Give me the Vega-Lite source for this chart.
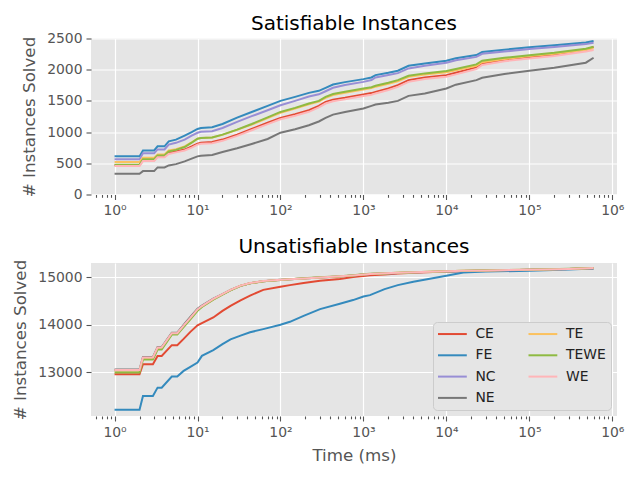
{
"$schema": "https://vega.github.io/schema/vega-lite/v6.json",
"background": "white",
"padding": {"left": 12, "top": 13.5, "right": 5, "bottom": 5},
"spacing": 18.5,
"datasets": {
"sat": [
{"series":"CE","time":1,"solved":470},{"series":"CE","time":2,"solved":470},{"series":"CE","time":2.2,"solved":550},{"series":"CE","time":3,"solved":550},{"series":"CE","time":3.3,"solved":610},{"series":"CE","time":4,"solved":610},{"series":"CE","time":4.5,"solved":665},{"series":"CE","time":5.5,"solved":690},{"series":"CE","time":7,"solved":720},{"series":"CE","time":8.5,"solved":770},{"series":"CE","time":10,"solved":815},{"series":"CE","time":11,"solved":830},{"series":"CE","time":15,"solved":840},{"series":"CE","time":20,"solved":880},{"series":"CE","time":30,"solved":960},{"series":"CE","time":45,"solved":1050},{"series":"CE","time":70,"solved":1150},{"series":"CE","time":100,"solved":1227},{"series":"CE","time":150,"solved":1286},{"series":"CE","time":220,"solved":1351},{"series":"CE","time":290,"solved":1420},{"series":"CE","time":350,"solved":1484},{"series":"CE","time":430,"solved":1520},{"series":"CE","time":600,"solved":1549},{"series":"CE","time":1000,"solved":1603},{"series":"CE","time":1250,"solved":1625},{"series":"CE","time":1400,"solved":1645},{"series":"CE","time":2000,"solved":1700},{"series":"CE","time":2600,"solved":1753},{"series":"CE","time":3500,"solved":1833},{"series":"CE","time":5500,"solved":1876},{"series":"CE","time":10000,"solved":1913},{"series":"CE","time":13000,"solved":1951},{"series":"CE","time":23000,"solved":2037},{"series":"CE","time":27000,"solved":2101},{"series":"CE","time":50000,"solved":2160},{"series":"CE","time":100000,"solved":2205},{"series":"CE","time":200000,"solved":2242},{"series":"CE","time":480000,"solved":2320},{"series":"CE","time":595000,"solved":2365},
{"series":"FE","time":1,"solved":611},{"series":"FE","time":2,"solved":611},{"series":"FE","time":2.2,"solved":707},{"series":"FE","time":3,"solved":707},{"series":"FE","time":3.3,"solved":772},{"series":"FE","time":4,"solved":772},{"series":"FE","time":4.5,"solved":852},{"series":"FE","time":5.5,"solved":879},{"series":"FE","time":7,"solved":945},{"series":"FE","time":8.5,"solved":1000},{"series":"FE","time":10,"solved":1050},{"series":"FE","time":11,"solved":1066},{"series":"FE","time":15,"solved":1077},{"series":"FE","time":20,"solved":1130},{"series":"FE","time":30,"solved":1233},{"series":"FE","time":45,"solved":1323},{"series":"FE","time":70,"solved":1420},{"series":"FE","time":100,"solved":1500},{"series":"FE","time":150,"solved":1565},{"series":"FE","time":220,"solved":1629},{"series":"FE","time":290,"solved":1661},{"series":"FE","time":350,"solved":1709},{"series":"FE","time":430,"solved":1763},{"series":"FE","time":600,"solved":1801},{"series":"FE","time":1000,"solved":1849},{"series":"FE","time":1250,"solved":1876},{"series":"FE","time":1400,"solved":1913},{"series":"FE","time":2000,"solved":1950},{"series":"FE","time":2600,"solved":1983},{"series":"FE","time":3500,"solved":2063},{"series":"FE","time":5500,"solved":2101},{"series":"FE","time":10000,"solved":2143},{"series":"FE","time":13000,"solved":2182},{"series":"FE","time":23000,"solved":2235},{"series":"FE","time":27000,"solved":2283},{"series":"FE","time":50000,"solved":2320},{"series":"FE","time":100000,"solved":2359},{"series":"FE","time":200000,"solved":2390},{"series":"FE","time":480000,"solved":2435},{"series":"FE","time":595000,"solved":2460},
{"series":"NC","time":1,"solved":563},{"series":"NC","time":2,"solved":563},{"series":"NC","time":2.2,"solved":660},{"series":"NC","time":3,"solved":660},{"series":"NC","time":3.3,"solved":722},{"series":"NC","time":4,"solved":722},{"series":"NC","time":4.5,"solved":800},{"series":"NC","time":5.5,"solved":828},{"series":"NC","time":7,"solved":880},{"series":"NC","time":8.5,"solved":945},{"series":"NC","time":10,"solved":990},{"series":"NC","time":11,"solved":1005},{"series":"NC","time":15,"solved":1015},{"series":"NC","time":20,"solved":1065},{"series":"NC","time":30,"solved":1165},{"series":"NC","time":45,"solved":1255},{"series":"NC","time":70,"solved":1350},{"series":"NC","time":100,"solved":1431},{"series":"NC","time":150,"solved":1500},{"series":"NC","time":220,"solved":1570},{"series":"NC","time":290,"solved":1605},{"series":"NC","time":350,"solved":1655},{"series":"NC","time":430,"solved":1710},{"series":"NC","time":600,"solved":1755},{"series":"NC","time":1000,"solved":1805},{"series":"NC","time":1250,"solved":1835},{"series":"NC","time":1400,"solved":1875},{"series":"NC","time":2000,"solved":1915},{"series":"NC","time":2600,"solved":1945},{"series":"NC","time":3500,"solved":2021},{"series":"NC","time":5500,"solved":2065},{"series":"NC","time":10000,"solved":2110},{"series":"NC","time":13000,"solved":2150},{"series":"NC","time":23000,"solved":2205},{"series":"NC","time":27000,"solved":2255},{"series":"NC","time":50000,"solved":2292},{"series":"NC","time":100000,"solved":2331},{"series":"NC","time":200000,"solved":2362},{"series":"NC","time":480000,"solved":2410},{"series":"NC","time":595000,"solved":2433},
{"series":"NE","time":1,"solved":333},{"series":"NE","time":2,"solved":333},{"series":"NE","time":2.2,"solved":375},{"series":"NE","time":3,"solved":375},{"series":"NE","time":3.3,"solved":434},{"series":"NE","time":4,"solved":434},{"series":"NE","time":4.5,"solved":466},{"series":"NE","time":5.5,"solved":487},{"series":"NE","time":7,"solved":530},{"series":"NE","time":8.5,"solved":575},{"series":"NE","time":10,"solved":611},{"series":"NE","time":11,"solved":620},{"series":"NE","time":15,"solved":632},{"series":"NE","time":20,"solved":680},{"series":"NE","time":30,"solved":740},{"series":"NE","time":45,"solved":810},{"series":"NE","time":70,"solved":890},{"series":"NE","time":100,"solved":990},{"series":"NE","time":150,"solved":1045},{"series":"NE","time":220,"solved":1110},{"series":"NE","time":290,"solved":1170},{"series":"NE","time":350,"solved":1227},{"series":"NE","time":430,"solved":1280},{"series":"NE","time":600,"solved":1323},{"series":"NE","time":1000,"solved":1378},{"series":"NE","time":1250,"solved":1420},{"series":"NE","time":1400,"solved":1442},{"series":"NE","time":2000,"solved":1470},{"series":"NE","time":2600,"solved":1500},{"series":"NE","time":3500,"solved":1581},{"series":"NE","time":5500,"solved":1619},{"series":"NE","time":10000,"solved":1700},{"series":"NE","time":13000,"solved":1760},{"series":"NE","time":23000,"solved":1833},{"series":"NE","time":27000,"solved":1870},{"series":"NE","time":50000,"solved":1930},{"series":"NE","time":100000,"solved":1983},{"series":"NE","time":200000,"solved":2030},{"series":"NE","time":480000,"solved":2112},{"series":"NE","time":595000,"solved":2192},
{"series":"TE","time":1,"solved":520},{"series":"TE","time":2,"solved":520},{"series":"TE","time":2.2,"solved":590},{"series":"TE","time":3,"solved":590},{"series":"TE","time":3.3,"solved":640},{"series":"TE","time":4,"solved":640},{"series":"TE","time":4.5,"solved":705},{"series":"TE","time":5.5,"solved":725},{"series":"TE","time":7,"solved":770},{"series":"TE","time":8.5,"solved":835},{"series":"TE","time":10,"solved":895},{"series":"TE","time":11,"solved":905},{"series":"TE","time":15,"solved":912},{"series":"TE","time":20,"solved":955},{"series":"TE","time":30,"solved":1035},{"series":"TE","time":45,"solved":1120},{"series":"TE","time":70,"solved":1225},{"series":"TE","time":100,"solved":1310},{"series":"TE","time":150,"solved":1378},{"series":"TE","time":220,"solved":1445},{"series":"TE","time":290,"solved":1488},{"series":"TE","time":350,"solved":1550},{"series":"TE","time":430,"solved":1595},{"series":"TE","time":600,"solved":1630},{"series":"TE","time":1000,"solved":1683},{"series":"TE","time":1250,"solved":1705},{"series":"TE","time":1400,"solved":1728},{"series":"TE","time":2000,"solved":1775},{"series":"TE","time":2600,"solved":1815},{"series":"TE","time":3500,"solved":1885},{"series":"TE","time":5500,"solved":1922},{"series":"TE","time":10000,"solved":1960},{"series":"TE","time":13000,"solved":1990},{"series":"TE","time":23000,"solved":2062},{"series":"TE","time":27000,"solved":2120},{"series":"TE","time":50000,"solved":2170},{"series":"TE","time":100000,"solved":2218},{"series":"TE","time":200000,"solved":2255},{"series":"TE","time":480000,"solved":2315},{"series":"TE","time":595000,"solved":2343},
{"series":"TEWE","time":1,"solved":477},{"series":"TEWE","time":2,"solved":477},{"series":"TEWE","time":2.2,"solved":565},{"series":"TEWE","time":3,"solved":565},{"series":"TEWE","time":3.3,"solved":625},{"series":"TEWE","time":4,"solved":625},{"series":"TEWE","time":4.5,"solved":690},{"series":"TEWE","time":5.5,"solved":715},{"series":"TEWE","time":7,"solved":760},{"series":"TEWE","time":8.5,"solved":830},{"series":"TEWE","time":10,"solved":895},{"series":"TEWE","time":11,"solved":905},{"series":"TEWE","time":15,"solved":915},{"series":"TEWE","time":20,"solved":960},{"series":"TEWE","time":30,"solved":1040},{"series":"TEWE","time":45,"solved":1130},{"series":"TEWE","time":70,"solved":1235},{"series":"TEWE","time":100,"solved":1323},{"series":"TEWE","time":150,"solved":1388},{"series":"TEWE","time":220,"solved":1458},{"series":"TEWE","time":290,"solved":1500},{"series":"TEWE","time":350,"solved":1565},{"series":"TEWE","time":430,"solved":1610},{"series":"TEWE","time":600,"solved":1645},{"series":"TEWE","time":1000,"solved":1699},{"series":"TEWE","time":1250,"solved":1720},{"series":"TEWE","time":1400,"solved":1742},{"series":"TEWE","time":2000,"solved":1790},{"series":"TEWE","time":2600,"solved":1833},{"series":"TEWE","time":3500,"solved":1903},{"series":"TEWE","time":5500,"solved":1941},{"series":"TEWE","time":10000,"solved":1978},{"series":"TEWE","time":13000,"solved":2010},{"series":"TEWE","time":23000,"solved":2085},{"series":"TEWE","time":27000,"solved":2144},{"series":"TEWE","time":50000,"solved":2190},{"series":"TEWE","time":100000,"solved":2230},{"series":"TEWE","time":200000,"solved":2270},{"series":"TEWE","time":480000,"solved":2335},{"series":"TEWE","time":595000,"solved":2369},
{"series":"WE","time":1,"solved":455},{"series":"WE","time":2,"solved":455},{"series":"WE","time":2.2,"solved":535},{"series":"WE","time":3,"solved":535},{"series":"WE","time":3.3,"solved":595},{"series":"WE","time":4,"solved":595},{"series":"WE","time":4.5,"solved":650},{"series":"WE","time":5.5,"solved":675},{"series":"WE","time":7,"solved":705},{"series":"WE","time":8.5,"solved":750},{"series":"WE","time":10,"solved":799},{"series":"WE","time":11,"solved":812},{"series":"WE","time":15,"solved":822},{"series":"WE","time":20,"solved":860},{"series":"WE","time":30,"solved":940},{"series":"WE","time":45,"solved":1030},{"series":"WE","time":70,"solved":1128},{"series":"WE","time":100,"solved":1206},{"series":"WE","time":150,"solved":1262},{"series":"WE","time":220,"solved":1325},{"series":"WE","time":290,"solved":1395},{"series":"WE","time":350,"solved":1458},{"series":"WE","time":430,"solved":1495},{"series":"WE","time":600,"solved":1525},{"series":"WE","time":1000,"solved":1578},{"series":"WE","time":1250,"solved":1600},{"series":"WE","time":1400,"solved":1620},{"series":"WE","time":2000,"solved":1675},{"series":"WE","time":2600,"solved":1725},{"series":"WE","time":3500,"solved":1805},{"series":"WE","time":5500,"solved":1850},{"series":"WE","time":10000,"solved":1888},{"series":"WE","time":13000,"solved":1925},{"series":"WE","time":23000,"solved":2010},{"series":"WE","time":27000,"solved":2075},{"series":"WE","time":50000,"solved":2135},{"series":"WE","time":100000,"solved":2180},{"series":"WE","time":200000,"solved":2220},{"series":"WE","time":480000,"solved":2290},{"series":"WE","time":595000,"solved":2316}
],
"unsat": [
{"series":"CE","time":1,"solved":12958},{"series":"CE","time":2,"solved":12958},{"series":"CE","time":2.2,"solved":13168},{"series":"CE","time":2.9,"solved":13168},{"series":"CE","time":3.3,"solved":13343},{"series":"CE","time":3.7,"solved":13343},{"series":"CE","time":4.9,"solved":13568},{"series":"CE","time":5.7,"solved":13568},{"series":"CE","time":6.8,"solved":13700},{"series":"CE","time":8.2,"solved":13848},{"series":"CE","time":10,"solved":13985},{"series":"CE","time":11.3,"solved":14030},{"series":"CE","time":15.5,"solved":14150},{"series":"CE","time":20,"solved":14290},{"series":"CE","time":25,"solved":14396},{"series":"CE","time":33,"solved":14510},{"series":"CE","time":43,"solved":14610},{"series":"CE","time":62,"solved":14730},{"series":"CE","time":100,"solved":14795},{"series":"CE","time":130,"solved":14830},{"series":"CE","time":190,"solved":14873},{"series":"CE","time":300,"solved":14920},{"series":"CE","time":520,"solved":14958},{"series":"CE","time":750,"solved":15000},{"series":"CE","time":1000,"solved":15020},{"series":"CE","time":1200,"solved":15035},{"series":"CE","time":1800,"solved":15055},{"series":"CE","time":2600,"solved":15072},{"series":"CE","time":4000,"solved":15090},{"series":"CE","time":10000,"solved":15115},{"series":"CE","time":16000,"solved":15122},{"series":"CE","time":30000,"solved":15135},{"series":"CE","time":100000,"solved":15153},{"series":"CE","time":300000,"solved":15170},{"series":"CE","time":595000,"solved":15185},
{"series":"FE","time":1,"solved":12213},{"series":"FE","time":2,"solved":12213},{"series":"FE","time":2.2,"solved":12501},{"series":"FE","time":2.9,"solved":12501},{"series":"FE","time":3.3,"solved":12676},{"series":"FE","time":3.7,"solved":12676},{"series":"FE","time":4.9,"solved":12908},{"series":"FE","time":5.7,"solved":12908},{"series":"FE","time":6.8,"solved":13027},{"series":"FE","time":8.2,"solved":13110},{"series":"FE","time":10,"solved":13202},{"series":"FE","time":11.3,"solved":13343},{"series":"FE","time":15.5,"solved":13463},{"series":"FE","time":20,"solved":13589},{"series":"FE","time":25,"solved":13690},{"series":"FE","time":33,"solved":13770},{"series":"FE","time":43,"solved":13840},{"series":"FE","time":62,"solved":13905},{"series":"FE","time":100,"solved":13996},{"series":"FE","time":130,"solved":14059},{"series":"FE","time":190,"solved":14185},{"series":"FE","time":300,"solved":14326},{"series":"FE","time":520,"solved":14440},{"series":"FE","time":750,"solved":14516},{"series":"FE","time":1000,"solved":14591},{"series":"FE","time":1200,"solved":14620},{"series":"FE","time":1800,"solved":14747},{"series":"FE","time":2600,"solved":14830},{"series":"FE","time":4000,"solved":14901},{"series":"FE","time":10000,"solved":15027},{"series":"FE","time":16000,"solved":15097},{"series":"FE","time":30000,"solved":15115},{"series":"FE","time":100000,"solved":15132},{"series":"FE","time":300000,"solved":15160},{"series":"FE","time":595000,"solved":15181},
{"series":"NC","time":1,"solved":13040},{"series":"NC","time":2,"solved":13040},{"series":"NC","time":2.2,"solved":13300},{"series":"NC","time":2.9,"solved":13300},{"series":"NC","time":3.3,"solved":13510},{"series":"NC","time":3.7,"solved":13510},{"series":"NC","time":4.9,"solved":13812},{"series":"NC","time":5.7,"solved":13812},{"series":"NC","time":6.8,"solved":13975},{"series":"NC","time":8.2,"solved":14135},{"series":"NC","time":10,"solved":14315},{"series":"NC","time":11.3,"solved":14385},{"series":"NC","time":15.5,"solved":14535},{"series":"NC","time":20,"solved":14637},{"series":"NC","time":25,"solved":14727},{"series":"NC","time":33,"solved":14818},{"series":"NC","time":43,"solved":14871},{"series":"NC","time":62,"solved":14913},{"series":"NC","time":100,"solved":14941},{"series":"NC","time":130,"solved":14953},{"series":"NC","time":190,"solved":14968},{"series":"NC","time":300,"solved":14988},{"series":"NC","time":520,"solved":15013},{"series":"NC","time":750,"solved":15033},{"series":"NC","time":1000,"solved":15053},{"series":"NC","time":1200,"solved":15063},{"series":"NC","time":1800,"solved":15076},{"series":"NC","time":2600,"solved":15086},{"series":"NC","time":4000,"solved":15098},{"series":"NC","time":10000,"solved":15118},{"series":"NC","time":16000,"solved":15128},{"series":"NC","time":30000,"solved":15138},{"series":"NC","time":100000,"solved":15151},{"series":"NC","time":300000,"solved":15168},{"series":"NC","time":595000,"solved":15187},
{"series":"NE","time":1,"solved":13058},{"series":"NE","time":2,"solved":13058},{"series":"NE","time":2.2,"solved":13318},{"series":"NE","time":2.9,"solved":13318},{"series":"NE","time":3.3,"solved":13528},{"series":"NE","time":3.7,"solved":13528},{"series":"NE","time":4.9,"solved":13830},{"series":"NE","time":5.7,"solved":13830},{"series":"NE","time":6.8,"solved":13995},{"series":"NE","time":8.2,"solved":14160},{"series":"NE","time":10,"solved":14335},{"series":"NE","time":11.3,"solved":14400},{"series":"NE","time":15.5,"solved":14545},{"series":"NE","time":20,"solved":14640},{"series":"NE","time":25,"solved":14728},{"series":"NE","time":33,"solved":14815},{"series":"NE","time":43,"solved":14868},{"series":"NE","time":62,"solved":14910},{"series":"NE","time":100,"solved":14940},{"series":"NE","time":130,"solved":14952},{"series":"NE","time":190,"solved":14968},{"series":"NE","time":300,"solved":14988},{"series":"NE","time":520,"solved":15013},{"series":"NE","time":750,"solved":15033},{"series":"NE","time":1000,"solved":15053},{"series":"NE","time":1200,"solved":15063},{"series":"NE","time":1800,"solved":15076},{"series":"NE","time":2600,"solved":15086},{"series":"NE","time":4000,"solved":15098},{"series":"NE","time":10000,"solved":15118},{"series":"NE","time":16000,"solved":15128},{"series":"NE","time":30000,"solved":15138},{"series":"NE","time":100000,"solved":15152},{"series":"NE","time":300000,"solved":15168},{"series":"NE","time":595000,"solved":15186},
{"series":"TE","time":1,"solved":13035},{"series":"TE","time":2,"solved":13035},{"series":"TE","time":2.2,"solved":13295},{"series":"TE","time":2.9,"solved":13295},{"series":"TE","time":3.3,"solved":13505},{"series":"TE","time":3.7,"solved":13505},{"series":"TE","time":4.9,"solved":13808},{"series":"TE","time":5.7,"solved":13808},{"series":"TE","time":6.8,"solved":13970},{"series":"TE","time":8.2,"solved":14130},{"series":"TE","time":10,"solved":14310},{"series":"TE","time":11.3,"solved":14380},{"series":"TE","time":15.5,"solved":14532},{"series":"TE","time":20,"solved":14635},{"series":"TE","time":25,"solved":14725},{"series":"TE","time":33,"solved":14816},{"series":"TE","time":43,"solved":14870},{"series":"TE","time":62,"solved":14912},{"series":"TE","time":100,"solved":14940},{"series":"TE","time":130,"solved":14952},{"series":"TE","time":190,"solved":14968},{"series":"TE","time":300,"solved":14988},{"series":"TE","time":520,"solved":15013},{"series":"TE","time":750,"solved":15033},{"series":"TE","time":1000,"solved":15053},{"series":"TE","time":1200,"solved":15063},{"series":"TE","time":1800,"solved":15076},{"series":"TE","time":2600,"solved":15088},{"series":"TE","time":4000,"solved":15100},{"series":"TE","time":10000,"solved":15120},{"series":"TE","time":16000,"solved":15130},{"series":"TE","time":30000,"solved":15140},{"series":"TE","time":100000,"solved":15152},{"series":"TE","time":300000,"solved":15170},{"series":"TE","time":595000,"solved":15188},
{"series":"TEWE","time":1,"solved":12992},{"series":"TEWE","time":2,"solved":12992},{"series":"TEWE","time":2.2,"solved":13265},{"series":"TEWE","time":2.9,"solved":13265},{"series":"TEWE","time":3.3,"solved":13475},{"series":"TEWE","time":3.7,"solved":13475},{"series":"TEWE","time":4.9,"solved":13790},{"series":"TEWE","time":5.7,"solved":13790},{"series":"TEWE","time":6.8,"solved":13950},{"series":"TEWE","time":8.2,"solved":14110},{"series":"TEWE","time":10,"solved":14290},{"series":"TEWE","time":11.3,"solved":14370},{"series":"TEWE","time":15.5,"solved":14525},{"series":"TEWE","time":20,"solved":14630},{"series":"TEWE","time":25,"solved":14722},{"series":"TEWE","time":33,"solved":14815},{"series":"TEWE","time":43,"solved":14870},{"series":"TEWE","time":62,"solved":14912},{"series":"TEWE","time":100,"solved":14942},{"series":"TEWE","time":130,"solved":14955},{"series":"TEWE","time":190,"solved":14972},{"series":"TEWE","time":300,"solved":14993},{"series":"TEWE","time":520,"solved":15018},{"series":"TEWE","time":750,"solved":15038},{"series":"TEWE","time":1000,"solved":15058},{"series":"TEWE","time":1200,"solved":15068},{"series":"TEWE","time":1800,"solved":15080},{"series":"TEWE","time":2600,"solved":15090},{"series":"TEWE","time":4000,"solved":15102},{"series":"TEWE","time":10000,"solved":15122},{"series":"TEWE","time":16000,"solved":15132},{"series":"TEWE","time":30000,"solved":15142},{"series":"TEWE","time":100000,"solved":15155},{"series":"TEWE","time":300000,"solved":15172},{"series":"TEWE","time":595000,"solved":15190},
{"series":"WE","time":1,"solved":13045},{"series":"WE","time":2,"solved":13045},{"series":"WE","time":2.2,"solved":13308},{"series":"WE","time":2.9,"solved":13308},{"series":"WE","time":3.3,"solved":13518},{"series":"WE","time":3.7,"solved":13518},{"series":"WE","time":4.9,"solved":13821},{"series":"WE","time":5.7,"solved":13821},{"series":"WE","time":6.8,"solved":13980},{"series":"WE","time":8.2,"solved":14140},{"series":"WE","time":10,"solved":14320},{"series":"WE","time":11.3,"solved":14390},{"series":"WE","time":15.5,"solved":14540},{"series":"WE","time":20,"solved":14640},{"series":"WE","time":25,"solved":14730},{"series":"WE","time":33,"solved":14820},{"series":"WE","time":43,"solved":14873},{"series":"WE","time":62,"solved":14915},{"series":"WE","time":100,"solved":14943},{"series":"WE","time":130,"solved":14955},{"series":"WE","time":190,"solved":14970},{"series":"WE","time":300,"solved":14990},{"series":"WE","time":520,"solved":15015},{"series":"WE","time":750,"solved":15035},{"series":"WE","time":1000,"solved":15055},{"series":"WE","time":1200,"solved":15065},{"series":"WE","time":1800,"solved":15078},{"series":"WE","time":2600,"solved":15088},{"series":"WE","time":4000,"solved":15100},{"series":"WE","time":10000,"solved":15120},{"series":"WE","time":16000,"solved":15130},{"series":"WE","time":30000,"solved":15140},{"series":"WE","time":100000,"solved":15153},{"series":"WE","time":300000,"solved":15170},{"series":"WE","time":595000,"solved":15189}
]
},
"config": {
"font": "DejaVu Sans",
"view": {"fill": "#E5E5E5", "stroke": null},
"axis": {"domain": false, "grid": true, "gridColor": "#FFFFFF", "gridWidth": 1.2, "tickColor": "#555555", "tickWidth": 1.1, "labelColor": "#555555", "labelFontSize": 13.9, "labelFont": "DejaVu Sans", "titleColor": "#555555", "titleFontSize": 16.7, "titleFont": "DejaVu Sans", "titleFontWeight": "normal", "labelPadding": 4, "titlePadding": 8},
"title": {"fontSize": 20, "font": "DejaVu Sans", "fontWeight": "normal", "color": "#000000", "anchor": "middle", "frame": "group", "baseline": "alphabetic"}
},
"resolve": {"scale": {"color": "independent"}, "legend": {"color": "independent"}},
"vconcat": [
{
"width": 526, "height": 156,
"title": {"text": "Satisfiable Instances", "offset": -2},
"data": {"name": "sat"},
"mark": {"type": "line", "strokeWidth": 2},
"encoding": {
"x": {"field": "time", "type": "quantitative", "scale": {"type": "log", "domain": [0.52, 1140000], "nice": false},
 "axis": {"title": null, "values": [0.6,0.7,0.8,0.9,1,2,3,4,5,6,7,8,9,10,20,30,40,50,60,70,80,90,100,200,300,400,500,600,700,800,900,1000,2000,3000,4000,5000,6000,7000,8000,9000,10000,20000,30000,40000,50000,60000,70000,80000,90000,100000,200000,300000,400000,500000,600000,700000,800000,900000,1000000],
 "labelExpr": "abs(log(datum.value)/LN10 - round(log(datum.value)/LN10)) < 1e-6 ? '10' + ['⁰','¹','²','³','⁴','⁵','⁶'][round(log(datum.value)/LN10)] : ''",
 "tickSize": {"condition": {"test": "abs(log(datum.value)/LN10 - round(log(datum.value)/LN10)) < 1e-6", "value": 5}, "value": 2.8},
 "gridOpacity": {"condition": {"test": "abs(log(datum.value)/LN10 - round(log(datum.value)/LN10)) < 1e-6", "value": 1}, "value": 0},
 "labelFlush": false, "labelOverlap": false}},
"y": {"field": "solved", "type": "quantitative", "scale": {"domain": [0, 2500], "nice": false, "zero": false},
 "axis": {"title": "# Instances Solved", "values": [0,500,1000,1500,2000,2500], "format": "d", "tickSize": 5}},
"color": {"field": "series", "type": "nominal",
 "scale": {"domain": ["CE","FE","NC","NE","TE","TEWE","WE"], "range": ["#E24A33","#348ABD","#988ED5","#777777","#FBC15E","#8EBA42","#FFB5B8"]},
 "legend": null}
}
},
{
"width": 526, "height": 153,
"title": {"text": "Unsatisfiable Instances", "offset": 2.5},
"data": {"name": "unsat"},
"mark": {"type": "line", "strokeWidth": 2},
"encoding": {
"x": {"field": "time", "type": "quantitative", "scale": {"type": "log", "domain": [0.52, 1140000], "nice": false},
 "axis": {"title": "Time (ms)", "titlePadding": 9, "values": [0.6,0.7,0.8,0.9,1,2,3,4,5,6,7,8,9,10,20,30,40,50,60,70,80,90,100,200,300,400,500,600,700,800,900,1000,2000,3000,4000,5000,6000,7000,8000,9000,10000,20000,30000,40000,50000,60000,70000,80000,90000,100000,200000,300000,400000,500000,600000,700000,800000,900000,1000000],
 "labelExpr": "abs(log(datum.value)/LN10 - round(log(datum.value)/LN10)) < 1e-6 ? '10' + ['⁰','¹','²','³','⁴','⁵','⁶'][round(log(datum.value)/LN10)] : ''",
 "tickSize": {"condition": {"test": "abs(log(datum.value)/LN10 - round(log(datum.value)/LN10)) < 1e-6", "value": 5}, "value": 2.8},
 "gridOpacity": {"condition": {"test": "abs(log(datum.value)/LN10 - round(log(datum.value)/LN10)) < 1e-6", "value": 1}, "value": 0},
 "labelFlush": false, "labelOverlap": false}},
"y": {"field": "solved", "type": "quantitative", "scale": {"domain": [12080, 15295], "nice": false, "zero": false},
 "axis": {"title": "# Instances Solved", "values": [13000,14000,15000], "format": "d", "tickSize": 5}},
"color": {"field": "series", "type": "nominal",
 "scale": {"domain": ["CE","FE","NC","NE","TE","TEWE","WE"], "range": ["#E24A33","#348ABD","#988ED5","#777777","#FBC15E","#8EBA42","#FFB5B8"]},
 "legend": {"title": null, "orient": "bottom-right", "offset": 6, "columns": 2, "symbolType": "M-2.4,0H2.4", "symbolSize": 144, "symbolStrokeWidth": 2, "symbolOffset": 7.4, "labelOffset": 16, "labelFontSize": 13.9, "labelFont": "DejaVu Sans", "labelColor": "#222222", "rowPadding": 7.3, "columnPadding": 28.5, "padding": 5, "fillColor": "#E5E5E5", "strokeColor": "#CCCCCC", "cornerRadius": 4}}
}
}
]
}
